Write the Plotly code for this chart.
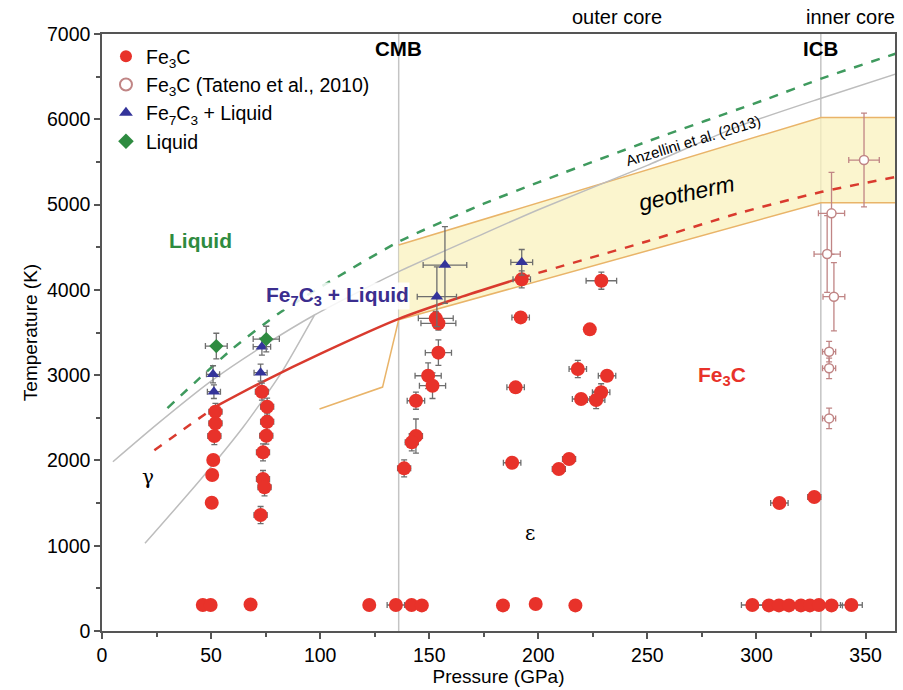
import plotly.graph_objects as go

# ---------------- data ----------------
fe3c_P = [52.0, 52.0, 51.5, 51.0, 50.5, 50.3,
          73.3, 75.7, 75.7, 75.3, 73.8, 73.8, 74.5, 72.7,
          153.0, 154.2, 154.2, 149.5, 151.5, 143.9, 143.9, 142.0, 138.5,
          192.4, 191.9, 189.6, 188.0,
          228.9, 223.6, 218.1, 231.5, 219.6, 228.8, 226.5, 214.1, 209.4,
          310.5, 326.5,
          46.2, 49.8, 68.1, 122.5, 134.7, 141.9, 146.6, 183.8, 198.8, 217.0,
          298.1, 305.7, 310.3, 314.9, 320.4, 324.5, 328.6, 334.4, 343.5]
fe3c_T = [2570, 2435, 2286, 2005, 1829, 1504,
          2806, 2630, 2454, 2290, 2095, 1782, 1685, 1360,
          3666, 3608, 3264, 2993, 2876, 2700, 2286, 2212, 1907,
          4123, 3677, 2857, 1973,
          4107, 3537, 3072, 2993, 2720, 2799, 2708, 2017, 1899,
          1501, 1571,
          305, 305, 310, 305, 305, 305, 300, 300, 317, 300,
          305, 300, 300, 300, 300, 300, 305, 300, 305]
fe3c_dP = [3, 3, 3, 0, 0, 0,
           3, 3, 3, 3, 3, 3, 3, 3,
           8, 8, 6, 6, 6, 4, 3, 3, 3,
           4, 4, 4, 4,
           7, 0, 4, 4, 4, 4, 4, 3, 3,
           4, 3,
           0, 0, 0, 0, 4, 0, 0, 0, 0, 0,
           5, 5, 5, 5, 5, 5, 5, 5, 5]
fe3c_dT = [100, 100, 100, 0, 0, 0,
           100, 100, 100, 100, 100, 100, 100, 100,
           80, 80, 150, 150, 150, 100, 200, 100, 100,
           100, 50, 50, 50,
           100, 0, 100, 50, 50, 100, 100, 50, 50,
           0, 0,
           0, 0, 0, 0, 0, 0, 0, 0, 0, 0,
           0, 0, 0, 0, 0, 0, 0, 0, 0]

tateno_P = [349.3, 334.4, 332.4, 335.5, 333.3, 333.3, 333.3]
tateno_T = [5522, 4897, 4420, 3920, 3275, 3080, 2493]
tateno_dP = [7, 6, 6, 5, 3, 3, 3]
tateno_dT = [550, 480, 450, 400, 120, 120, 120]

fe7c3_P = [50.9, 51.3, 73.3, 72.7, 157.2, 153.5, 192.4]
fe7c3_T = [3010, 2806, 3334, 3029, 4291, 3920, 4323]
fe7c3_dP = [3, 3, 4, 3, 10, 9, 5]
fe7c3_dT = [100, 80, 100, 100, 450, 350, 150]

liq_P = [52.4, 75.3]
liq_T = [3341, 3423]
liq_dP = [5, 6]
liq_dT = [150, 150]

# curves
green_P = [30, 45, 60, 81, 100, 136, 175, 200, 250, 305, 330, 365]
green_T = [2614, 2970, 3314, 3724, 4030, 4564, 5010, 5260, 5740, 6240, 6480, 6780]

anz_P = [5, 25, 50, 75, 97.4, 136, 175, 200, 250, 292, 330, 365]
anz_T = [1985, 2420, 2930, 3360, 3705, 4213, 4660, 4940, 5460, 5920, 6250, 6540]

steep_P = [19.7, 45, 65, 82, 97.4]
steep_T = [1028, 1770, 2400, 3020, 3705]

red_solid_P = [52, 75, 100, 136, 165, 192]
red_solid_T = [2630, 2940, 3250, 3660, 3920, 4140]
red_dash_left_P = [24, 52]
red_dash_left_T = [2120, 2630]
red_dash_right_P = [192, 250, 292, 330, 365]
red_dash_right_T = [4140, 4570, 4900, 5150, 5330]

geo_upper_P = [136, 329.5, 365]
geo_upper_T = [4526, 6022, 6022]
geo_lower_P = [136, 329.5, 365]
geo_lower_T = [3650, 5022, 5022]
orange_P = [99.7, 128.6, 136]
orange_T = [2603, 2860, 3650]

CMB_P = 136
ICB_P = 329.5

# ---------------- figure ----------------
RED = "#e8322a"
GREEN_LINE = "#3f9a5e"
GREY = "#bdbdbd"
ORANGE = "#e9b469"
ERR = "#6e6e6e"

fig = go.Figure()

# geotherm band
fig.add_trace(go.Scatter(x=geo_lower_P + geo_upper_P[::-1], y=geo_lower_T + geo_upper_T[::-1],
                         fill="toself", fillcolor="rgba(250,241,190,0.75)",
                         line=dict(color=ORANGE, width=1.5), mode="lines",
                         showlegend=False, hoverinfo="skip"))
fig.add_trace(go.Scatter(x=orange_P, y=orange_T, mode="lines",
                         line=dict(color=ORANGE, width=1.5), showlegend=False))

# boundary lines
for xv in (CMB_P, ICB_P):
    fig.add_shape(type="line", x0=xv, x1=xv, y0=0, y1=7000, xref="x", yref="y",
                  line=dict(color="#c4c4c4", width=1.5), layer="below")

fig.add_trace(go.Scatter(x=anz_P, y=anz_T, mode="lines",
                         line=dict(color=GREY, width=1.5, shape="spline", smoothing=0.6),
                         showlegend=False))
fig.add_trace(go.Scatter(x=steep_P, y=steep_T, mode="lines",
                         line=dict(color=GREY, width=1.5, shape="spline", smoothing=0.6),
                         showlegend=False))
fig.add_trace(go.Scatter(x=green_P, y=green_T, mode="lines",
                         line=dict(color=GREEN_LINE, width=2.5, dash="dash", shape="spline", smoothing=0.6),
                         showlegend=False))
fig.add_trace(go.Scatter(x=red_solid_P, y=red_solid_T, mode="lines",
                         line=dict(color="#d93a2e", width=2.5, shape="spline", smoothing=0.8),
                         showlegend=False))
fig.add_trace(go.Scatter(x=red_dash_left_P, y=red_dash_left_T, mode="lines",
                         line=dict(color="#d93a2e", width=2.5, dash="dash"), showlegend=False))
fig.add_trace(go.Scatter(x=red_dash_right_P, y=red_dash_right_T, mode="lines",
                         line=dict(color="#d93a2e", width=2.5, dash="dash", shape="spline", smoothing=0.6),
                         showlegend=False))

def eb(arr, color):
    return dict(type="data", array=arr, color=color, thickness=1.3, width=3)

fig.add_trace(go.Scatter(x=fe3c_P, y=fe3c_T, mode="markers", name="Fe<sub>3</sub>C",
                         marker=dict(color=RED, size=14, line=dict(width=0)),
                         error_x=eb(fe3c_dP, ERR), error_y=eb(fe3c_dT, ERR)))
fig.add_trace(go.Scatter(x=tateno_P, y=tateno_T, mode="markers", name="Fe<sub>3</sub>C (Tateno et al., 2010)",
                         marker=dict(color="white", size=9, line=dict(color="#c08585", width=1.5)),
                         error_x=eb(tateno_dP, "#c08585"), error_y=eb(tateno_dT, "#c08585")))
fig.add_trace(go.Scatter(x=fe7c3_P, y=fe7c3_T, mode="markers", name="Fe<sub>7</sub>C<sub>3</sub> + Liquid",
                         marker=dict(color="#34349a", size=11, symbol="triangle-up"),
                         error_x=eb(fe7c3_dP, ERR), error_y=eb(fe7c3_dT, ERR)))
fig.add_trace(go.Scatter(x=liq_P, y=liq_T, mode="markers", name="Liquid",
                         marker=dict(color="#2e8b40", size=11, symbol="diamond"),
                         error_x=eb(liq_dP, ERR), error_y=eb(liq_dT, ERR)))

FONT = "Liberation Sans, Arial, sans-serif"

ann = [
    dict(x=45.3, y=4584, text="<b>Liquid</b>", font=dict(color="#2e8b40", size=21)),
    dict(x=107.9, y=3928, text="<b>Fe<sub>7</sub>C<sub>3</sub> + Liquid</b>", font=dict(color="#3b2e8f", size=21),
         bgcolor="rgba(255,255,255,0.85)", borderpad=0),
    dict(x=284, y=2990, text="<b>Fe<sub>3</sub>C</b>", font=dict(color=RED, size=21)),
    dict(x=21, y=1806, text="γ", font=dict(color="black", size=20, family="DejaVu Serif")),
    dict(x=196, y=1149, text="ε", font=dict(color="black", size=20, family="DejaVu Serif")),
    dict(x=268, y=5135, text="<i>geotherm</i>", font=dict(color="black", size=23), textangle=-12),
    dict(x=271, y=5757, text="Anzellini et al. (2013)", font=dict(color="black", size=15), textangle=-17),
    dict(x=CMB_P, y=6835, text="<b>CMB</b>", font=dict(color="black", size=20.5)),
    dict(x=ICB_P, y=6835, text="<b>ICB</b>", font=dict(color="black", size=20.5)),
]
for a in ann:
    a.update(xref="x", yref="y", showarrow=False)
    fig.add_annotation(**a)

fig.add_annotation(x=236, y=1.028, xref="x", yref="paper", text="outer core", showarrow=False,
                   font=dict(size=20, color="black"), yanchor="middle")
fig.add_annotation(x=343, y=1.028, xref="x", yref="paper", text="inner core", showarrow=False,
                   font=dict(size=20, color="black"), yanchor="middle")

fig.update_layout(
    width=903, height=690,
    margin=dict(l=102, r=6, t=34, b=59),
    paper_bgcolor="white", plot_bgcolor="white",
    font=dict(family=FONT, size=19, color="black"),
    legend=dict(x=0.005, y=0.995, xanchor="left", yanchor="top", bgcolor="rgba(0,0,0,0)",
                font=dict(size=19.5), itemsizing="constant", tracegroupgap=0, itemwidth=30),
    xaxis=dict(range=[0, 363.5], tickvals=[0, 50, 100, 150, 200, 250, 300, 350],
               ticks="outside", ticklen=6, tickwidth=1.5, tickcolor="#555",
               minor=dict(dtick=25, ticks="outside", ticklen=4, tickcolor="#555"),
               showline=True, linecolor="#555", linewidth=1.5, mirror=True,
               showgrid=False, zeroline=False, tickfont=dict(size=19.5),
               title=dict(text="Pressure (GPa)", standoff=4, font=dict(size=19))),
    yaxis=dict(range=[0, 7000], dtick=1000,
               ticks="outside", ticklen=6, tickwidth=1.5, tickcolor="#555",
               minor=dict(dtick=500, ticks="outside", ticklen=4, tickcolor="#555"),
               showline=True, linecolor="#555", linewidth=1.5, mirror=True,
               showgrid=False, zeroline=False, tickfont=dict(size=19.5),
               title=dict(text="Temperature (K)", standoff=4, font=dict(size=19))),
)

fig.write_html("out.html")
